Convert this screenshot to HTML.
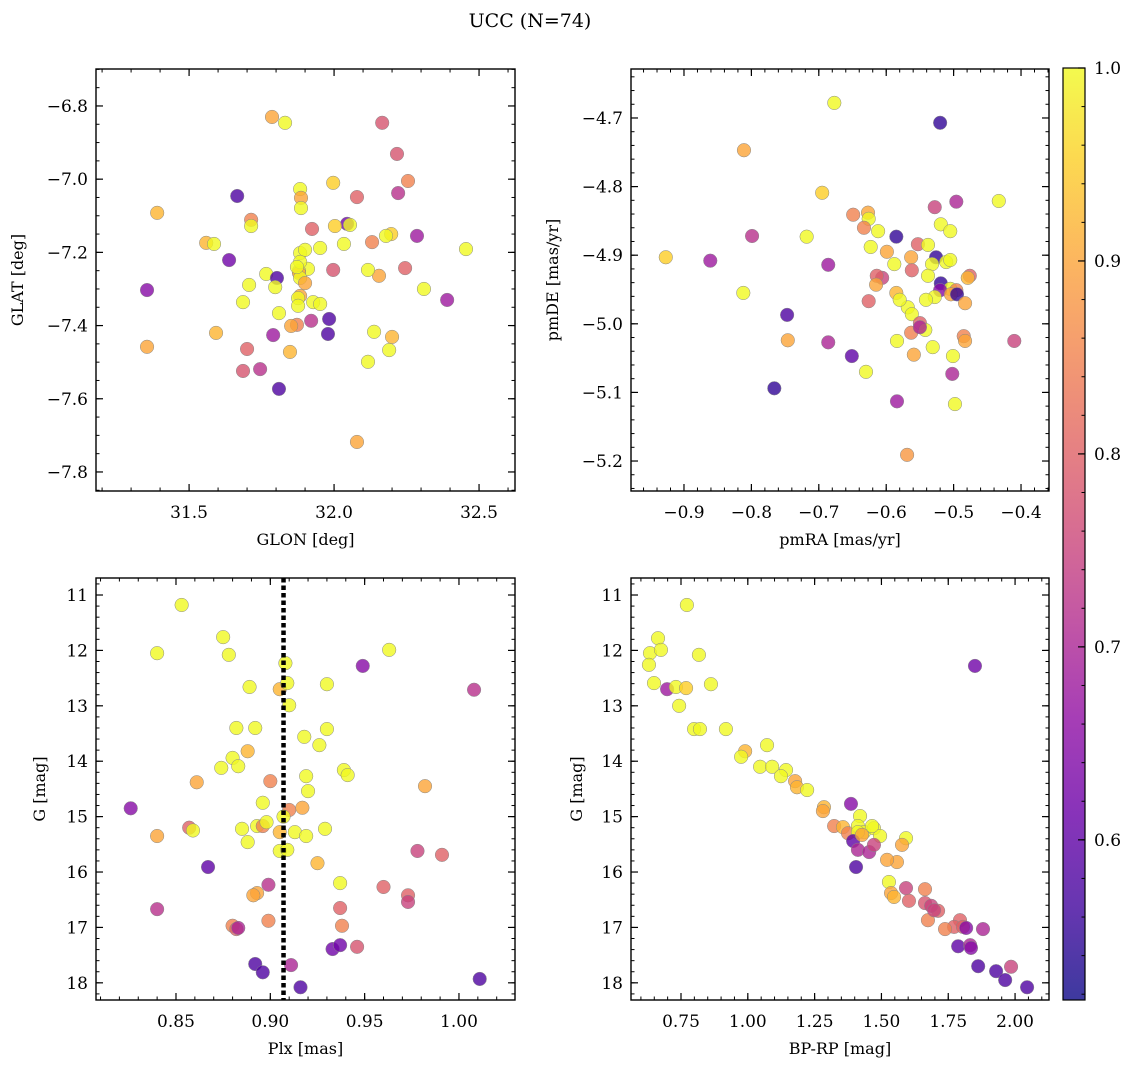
<!DOCTYPE html>
<html><head><meta charset="utf-8"><style>
html,body{margin:0;padding:0;background:#fff;}
svg{display:block;font-family:"DejaVu Serif","Liberation Serif",serif;}
</style></head><body>
<svg id="fig" width="1136" height="1068" viewBox="0 0 1136 1068" xmlns="http://www.w3.org/2000/svg">
<text x="530" y="27" font-size="19" text-anchor="middle">UCC (N=74)</text>
</svg>
<script>
// ---- data ----
const p1Glon=[31.786,31.831,32.166,32.217,32.255,31.997,31.883,32.079,32.221,31.666,31.390,31.886,31.886,31.714,31.714,32.045,32.003,31.924,32.055,32.286,32.197,32.179,32.131,32.034,31.559,31.586,31.952,31.883,32.455,31.638,31.997,32.155,31.766,31.910,31.879,32.117,32.245,31.879,31.803,31.883,31.355,31.707,31.797,32.310,31.883,31.876,31.928,31.952,31.686,31.876,32.390,31.810,31.983,31.921,31.872,31.852,32.138,31.979,31.790,31.593,32.200,31.355,31.700,31.848,32.190,32.117,31.745,31.686,31.810,32.079,31.900,31.883,31.872,31.900];
const p1Glat=[-6.830,-6.846,-6.846,-6.931,-7.005,-7.010,-7.027,-7.049,-7.038,-7.046,-7.092,-7.051,-7.079,-7.111,-7.128,-7.122,-7.128,-7.136,-7.125,-7.155,-7.150,-7.155,-7.172,-7.177,-7.174,-7.177,-7.188,-7.202,-7.191,-7.221,-7.248,-7.264,-7.259,-7.245,-7.251,-7.248,-7.243,-7.256,-7.270,-7.270,-7.303,-7.289,-7.295,-7.300,-7.319,-7.325,-7.336,-7.341,-7.336,-7.346,-7.330,-7.366,-7.382,-7.387,-7.398,-7.401,-7.417,-7.423,-7.426,-7.420,-7.431,-7.458,-7.464,-7.472,-7.467,-7.499,-7.519,-7.524,-7.573,-7.718,-7.193,-7.226,-7.240,-7.284];
const p1Prob=[0.9,1.0,0.78,0.78,0.85,0.95,1.0,0.8,0.72,0.58,0.92,0.9,1.0,0.85,1.0,0.62,0.95,0.8,1.0,0.68,0.95,1.0,0.85,1.0,0.92,1.0,1.0,1.0,1.0,0.62,0.78,0.9,1.0,1.0,1.0,1.0,0.8,0.9,0.58,1.0,0.65,1.0,1.0,1.0,0.9,1.0,1.0,1.0,1.0,1.0,0.68,1.0,0.58,0.72,0.85,0.9,1.0,0.58,0.68,0.92,0.92,0.9,0.8,0.92,1.0,1.0,0.72,0.78,0.58,0.9,1.0,1.0,1.0,0.9];

const p2PmRA=[-0.677,-0.520,-0.811,-0.433,-0.496,-0.528,-0.695,-0.649,-0.627,-0.626,-0.633,-0.612,-0.799,-0.718,-0.585,-0.519,-0.505,-0.553,-0.538,-0.927,-0.861,-0.563,-0.526,-0.511,-0.588,-0.562,-0.532,-0.606,-0.614,-0.686,-0.615,-0.538,-0.519,-0.505,-0.476,-0.496,-0.520,-0.479,-0.504,-0.585,-0.812,-0.626,-0.495,-0.528,-0.568,-0.483,-0.562,-0.550,-0.542,-0.563,-0.550,-0.485,-0.483,-0.746,-0.686,-0.584,-0.531,-0.501,-0.559,-0.410,-0.651,-0.630,-0.502,-0.747,-0.766,-0.498,-0.584,-0.569,-0.623,-0.580,-0.541,-0.505,-0.599];
const p2PmDE=[-4.678,-4.707,-4.747,-4.821,-4.822,-4.830,-4.809,-4.841,-4.838,-4.847,-4.860,-4.865,-4.872,-4.873,-4.873,-4.855,-4.865,-4.884,-4.885,-4.903,-4.908,-4.903,-4.903,-4.910,-4.913,-4.922,-4.913,-4.933,-4.930,-4.914,-4.943,-4.930,-4.941,-4.949,-4.930,-4.951,-4.951,-4.933,-4.957,-4.955,-4.955,-4.967,-4.957,-4.961,-4.976,-4.970,-4.986,-4.999,-5.009,-5.013,-5.005,-5.018,-5.025,-5.024,-5.027,-5.025,-5.034,-5.047,-5.045,-5.025,-5.047,-5.070,-5.073,-4.987,-5.094,-5.117,-5.113,-5.191,-4.888,-4.965,-4.965,-4.907,-4.895];
const p2Prob=[1.0,0.55,0.9,1.0,0.7,0.75,0.95,0.85,0.9,1.0,0.85,1.0,0.72,1.0,0.55,1.0,1.0,0.8,1.0,0.95,0.68,0.9,0.55,1.0,1.0,0.8,1.0,0.75,0.8,0.68,0.9,1.0,0.55,1.0,0.8,0.85,0.65,0.92,0.9,0.92,1.0,0.8,0.55,1.0,1.0,0.9,1.0,0.8,1.0,0.85,0.7,0.85,0.9,0.9,0.7,1.0,1.0,1.0,0.9,0.75,0.6,1.0,0.7,0.58,0.55,1.0,0.68,0.88,1.0,1.0,1.0,1.0,0.9];

const p3Plx=[0.853,0.875,0.840,0.878,0.963,0.949,0.908,0.889,0.905,0.909,0.930,1.008,0.910,0.882,0.892,0.930,0.918,0.926,0.888,0.880,0.883,0.874,0.861,0.900,0.919,0.939,0.941,0.920,0.982,0.896,0.910,0.917,0.826,0.857,0.859,0.840,0.885,0.893,0.896,0.898,0.905,0.913,0.919,0.929,0.888,0.905,0.925,0.978,0.867,0.991,0.937,0.899,0.893,0.891,0.960,0.973,0.973,0.899,0.937,0.938,0.840,0.880,0.882,0.883,0.946,0.933,0.937,0.892,0.896,0.911,0.916,1.011,0.907,0.909];
const p3G=[11.18,11.76,12.05,12.08,11.99,12.28,12.23,12.66,12.70,12.59,12.61,12.71,12.99,13.40,13.40,13.42,13.56,13.71,13.82,13.94,14.09,14.12,14.38,14.36,14.27,14.16,14.25,14.54,14.45,14.75,14.88,14.84,14.85,15.20,15.25,15.35,15.22,15.17,15.17,15.10,15.28,15.28,15.35,15.22,15.46,15.62,15.84,15.62,15.91,15.69,16.20,16.23,16.38,16.42,16.27,16.42,16.54,16.88,16.65,16.97,16.67,16.97,17.03,17.01,17.35,17.39,17.32,17.66,17.81,17.68,18.08,17.93,15.00,15.60];
const p3Prob=[1.0,1.0,1.0,1.0,1.0,0.65,1.0,1.0,0.92,1.0,1.0,0.72,1.0,1.0,1.0,1.0,1.0,1.0,0.92,1.0,1.0,1.0,0.9,0.85,1.0,1.0,1.0,1.0,0.9,1.0,0.85,0.9,0.65,0.8,1.0,0.9,1.0,1.0,0.85,1.0,0.92,1.0,1.0,1.0,1.0,1.0,0.92,0.75,0.6,0.8,1.0,0.72,0.9,0.9,0.8,0.8,0.75,0.85,0.8,0.85,0.72,0.85,0.8,0.7,0.78,0.62,0.62,0.58,0.58,0.7,0.58,0.58,1.0,1.0];
const plxLine=0.907;

const p4BpRp=[0.772,0.664,0.634,0.675,0.817,1.850,0.630,0.649,0.698,0.731,0.769,0.862,0.743,0.799,0.821,0.918,0.990,1.072,0.975,1.046,1.091,1.143,1.124,1.177,1.184,1.222,1.285,1.281,1.386,1.420,1.323,1.356,1.375,1.412,1.435,1.472,1.495,1.465,1.412,1.394,1.427,1.412,1.405,1.454,1.472,1.592,1.577,1.558,1.528,1.536,1.592,1.547,1.663,1.663,1.712,1.686,1.603,1.674,1.794,1.697,1.772,1.738,1.805,1.817,1.787,1.832,1.835,1.862,1.929,1.963,2.045,1.985,1.880,1.521];
const p4G=[11.18,11.78,12.05,11.99,12.08,12.28,12.26,12.59,12.70,12.66,12.68,12.61,13.00,13.42,13.42,13.42,13.82,13.71,13.92,14.10,14.10,14.16,14.27,14.36,14.47,14.52,14.83,14.90,14.77,14.99,15.17,15.19,15.30,15.17,15.28,15.21,15.35,15.17,15.28,15.44,15.33,15.60,15.91,15.64,15.51,15.39,15.51,15.82,16.18,16.38,16.29,16.45,16.31,16.56,16.70,16.61,16.52,16.87,16.87,16.69,16.99,17.03,16.99,17.01,17.34,17.32,17.37,17.70,17.79,17.95,18.08,17.71,17.03,15.78];
const p4Prob=[1.0,1.0,1.0,1.0,1.0,0.62,1.0,1.0,0.68,1.0,0.95,1.0,1.0,1.0,1.0,1.0,0.92,1.0,1.0,1.0,1.0,1.0,1.0,0.9,0.92,1.0,0.92,0.9,0.65,1.0,0.85,0.92,0.85,1.0,1.0,1.0,1.0,1.0,1.0,0.6,0.9,0.7,0.58,0.7,0.75,1.0,0.9,0.9,1.0,0.9,0.75,0.92,0.85,0.78,0.8,0.75,0.8,0.85,0.8,0.75,0.8,0.85,0.8,0.65,0.6,0.7,0.65,0.58,0.58,0.58,0.58,0.75,0.7,0.9];

const cbTicks=[0.6,0.7,0.8,0.9,1.0];
const cbMin=0.517, cbMax=1.0;

// ---- rendering ----
const NS='http://www.w3.org/2000/svg';
const svg=document.getElementById('fig');
function el(tag,attrs,parent){const e=document.createElementNS(NS,tag);for(const k in attrs)e.setAttribute(k,attrs[k]);(parent||svg).appendChild(e);return e;}
const stops=[[0,'#0d0887'],[0.1,'#41049d'],[0.2,'#6a00a8'],[0.3,'#8f0da4'],[0.4,'#b12a90'],[0.5,'#cc4778'],[0.6,'#e16462'],[0.7,'#f2844b'],[0.8,'#fca636'],[0.9,'#fcce25'],[1,'#f0f921']];
function hex(h){return [1,3,5].map(i=>parseInt(h.substr(i,2),16));}
function plasma(t){t=Math.max(0,Math.min(1,t));for(let i=1;i<stops.length;i++){if(t<=stops[i][0]){const a=stops[i-1],b=stops[i];const f=(t-a[0])/(b[0]-a[0]);const ca=hex(a[1]),cb=hex(b[1]);return 'rgb('+ca.map((v,j)=>Math.round(v+(cb[j]-v)*f)).join(',')+')';}}return stops[10][1];}
function colorOf(p){return plasma((p-cbMin)/(cbMax-cbMin));}
function fmt(v,d){const s=Math.abs(v).toFixed(d);return (v<-1e-9?'\u2212':'')+s;}

function panel(cfg){
  const g=el('g',{});
  
  
  const L=cfg.L,R=cfg.R,T=cfg.T,B=cfg.B;
  const sx=v=>L+(v-cfg.x0)/(cfg.x1-cfg.x0)*(R-L);
  const sy=v=>T+(v-cfg.y0)/(cfg.y1-cfg.y0)*(B-T);
  function ticks(a0,a1,step){const out=[];const lo=Math.min(a0,a1),hi=Math.max(a0,a1);for(let k=Math.ceil(lo/step-1e-6);k*step<=hi+1e-9;k++)out.push(+(k*step).toFixed(6));return out;}
  ticks(cfg.x0,cfg.x1,cfg.xminor).forEach(v=>{const x=sx(v);el('line',{x1:x,x2:x,y1:B,y2:B-3.5,stroke:'#000','stroke-width':1},g);el('line',{x1:x,x2:x,y1:T,y2:T+3.5,stroke:'#000','stroke-width':1},g);});
  ticks(cfg.y0,cfg.y1,cfg.yminor).forEach(v=>{const y=sy(v);el('line',{x1:L,x2:L+3.5,y1:y,y2:y,stroke:'#000','stroke-width':1},g);el('line',{x1:R,x2:R-3.5,y1:y,y2:y,stroke:'#000','stroke-width':1},g);});
  ticks(cfg.x0,cfg.x1,cfg.xmajor).forEach(v=>{const x=sx(v);el('line',{x1:x,x2:x,y1:B,y2:B-7,stroke:'#000','stroke-width':1.2},g);el('line',{x1:x,x2:x,y1:T,y2:T+7,stroke:'#000','stroke-width':1.2},g);
    const t=el('text',{x:x,y:B+27,'font-size':17,'text-anchor':'middle'},g);t.textContent=fmt(v,cfg.xd);
    
    });
  ticks(cfg.y0,cfg.y1,cfg.ymajor).forEach(v=>{const y=sy(v);el('line',{x1:L,x2:L+7,y1:y,y2:y,stroke:'#000','stroke-width':1.2},g);el('line',{x1:R,x2:R-7,y1:y,y2:y,stroke:'#000','stroke-width':1.2},g);
    const t=el('text',{x:L-8,y:y+6,'font-size':17,'text-anchor':'end'},g);t.textContent=fmt(v,cfg.yd);
    
    });
  const pg=el('g',{},g);
  
  
  cfg.xs.forEach((xv,i)=>{const c=el('circle',{cx:sx(xv),cy:sy(cfg.ys[i]),r:6.8,fill:colorOf(cfg.ps[i]),'fill-opacity':0.8,stroke:'#888','stroke-width':0.5},pg);
    
    });
  if(cfg.extra)cfg.extra(g,sx,sy);
  const f=el('rect',{x:L,y:T,width:R-L,height:B-T,fill:'none',stroke:'#000','stroke-width':1.4},g);
  
  
  const xl=el('text',{x:(L+R)/2,y:B+54,'font-size':16,'text-anchor':'middle'},g);xl.textContent=cfg.xlabel;
  
  
  const yl=el('text',{x:cfg.ylx,y:(T+B)/2,'font-size':16,'text-anchor':'middle',transform:'rotate(-90 '+cfg.ylx+' '+(T+B)/2+')'},g);yl.textContent=cfg.ylabel;
  
  
}

panel({name:'glon-glat-panel',L:96,R:515,T:69,B:491,x0:31.179,x1:32.624,y0:-6.699,y1:-7.852,xmajor:0.5,xminor:0.1,ymajor:0.2,yminor:0.05,xd:1,yd:1,xs:p1Glon,ys:p1Glat,ps:p1Prob,xlabel:'GLON [deg]',ylabel:'GLAT [deg]',ylx:23});
panel({name:'pm-panel',L:631,R:1049,T:69,B:491,x0:-0.9786,x1:-0.3585,y0:-4.6286,y1:-5.2437,xmajor:0.1,xminor:0.02,ymajor:0.1,yminor:0.02,xd:1,yd:1,xs:p2PmRA,ys:p2PmDE,ps:p2Prob,xlabel:'pmRA [mas/yr]',ylabel:'pmDE [mas/yr]',ylx:558});
panel({name:'plx-g-panel',L:96,R:515,T:578,B:1000,x0:0.8076,x1:1.0297,y0:10.693,y1:18.310,xmajor:0.05,xminor:0.01,ymajor:1,yminor:0.2,xd:2,yd:0,xs:p3Plx,ys:p3G,ps:p3Prob,xlabel:'Plx [mas]',ylabel:'G [mag]',ylx:45,
  extra:(g,sx,sy)=>{const l=el('line',{x1:sx(plxLine),x2:sx(plxLine),y1:578,y2:1000,stroke:'#000','stroke-width':4.5,'stroke-dasharray':'4.5 3'},g);
    
    }});
panel({name:'cmd-panel',L:631,R:1049,T:578,B:1000,x0:0.5629,x1:2.127,y0:10.693,y1:18.310,xmajor:0.25,xminor:0.05,ymajor:1,yminor:0.2,xd:2,yd:0,xs:p4BpRp,ys:p4G,ps:p4Prob,xlabel:'BP-RP [mag]',ylabel:'G [mag]',ylx:582});

const cb=el('g',{});


const defs=el('defs',{},cb);
const grad=el('linearGradient',{id:'cbg',x1:0,y1:1,x2:0,y2:0},defs);
for(let i=0;i<=20;i++){const t=i/20;el('stop',{offset:t,'stop-color':plasma(t),'stop-opacity':0.8},grad);}
const cT=68,cB=1000,cL=1063,cR=1085;
el('rect',{x:cL,y:cT,width:cR-cL,height:cB-cT,fill:'url(#cbg)',stroke:'#000','stroke-width':1.2},cb);
const cy=v=>cB-(v-cbMin)/(cbMax-cbMin)*(cB-cT);
for(let k=26;k<=50;k++){const v=k*0.02;if(v<cbMin||v>cbMax+1e-9)continue;el('line',{x1:cR,x2:cR-3.5,y1:cy(v),y2:cy(v),stroke:'#000','stroke-width':1},cb);}
cbTicks.forEach(v=>{const y=cy(v);el('line',{x1:cR,x2:cR-7,y1:y,y2:y,stroke:'#000','stroke-width':1.2},cb);
  const t=el('text',{x:cR+9,y:y+6,'font-size':17},cb);t.textContent=v.toFixed(1);
  
  });
</script>
</body></html>
